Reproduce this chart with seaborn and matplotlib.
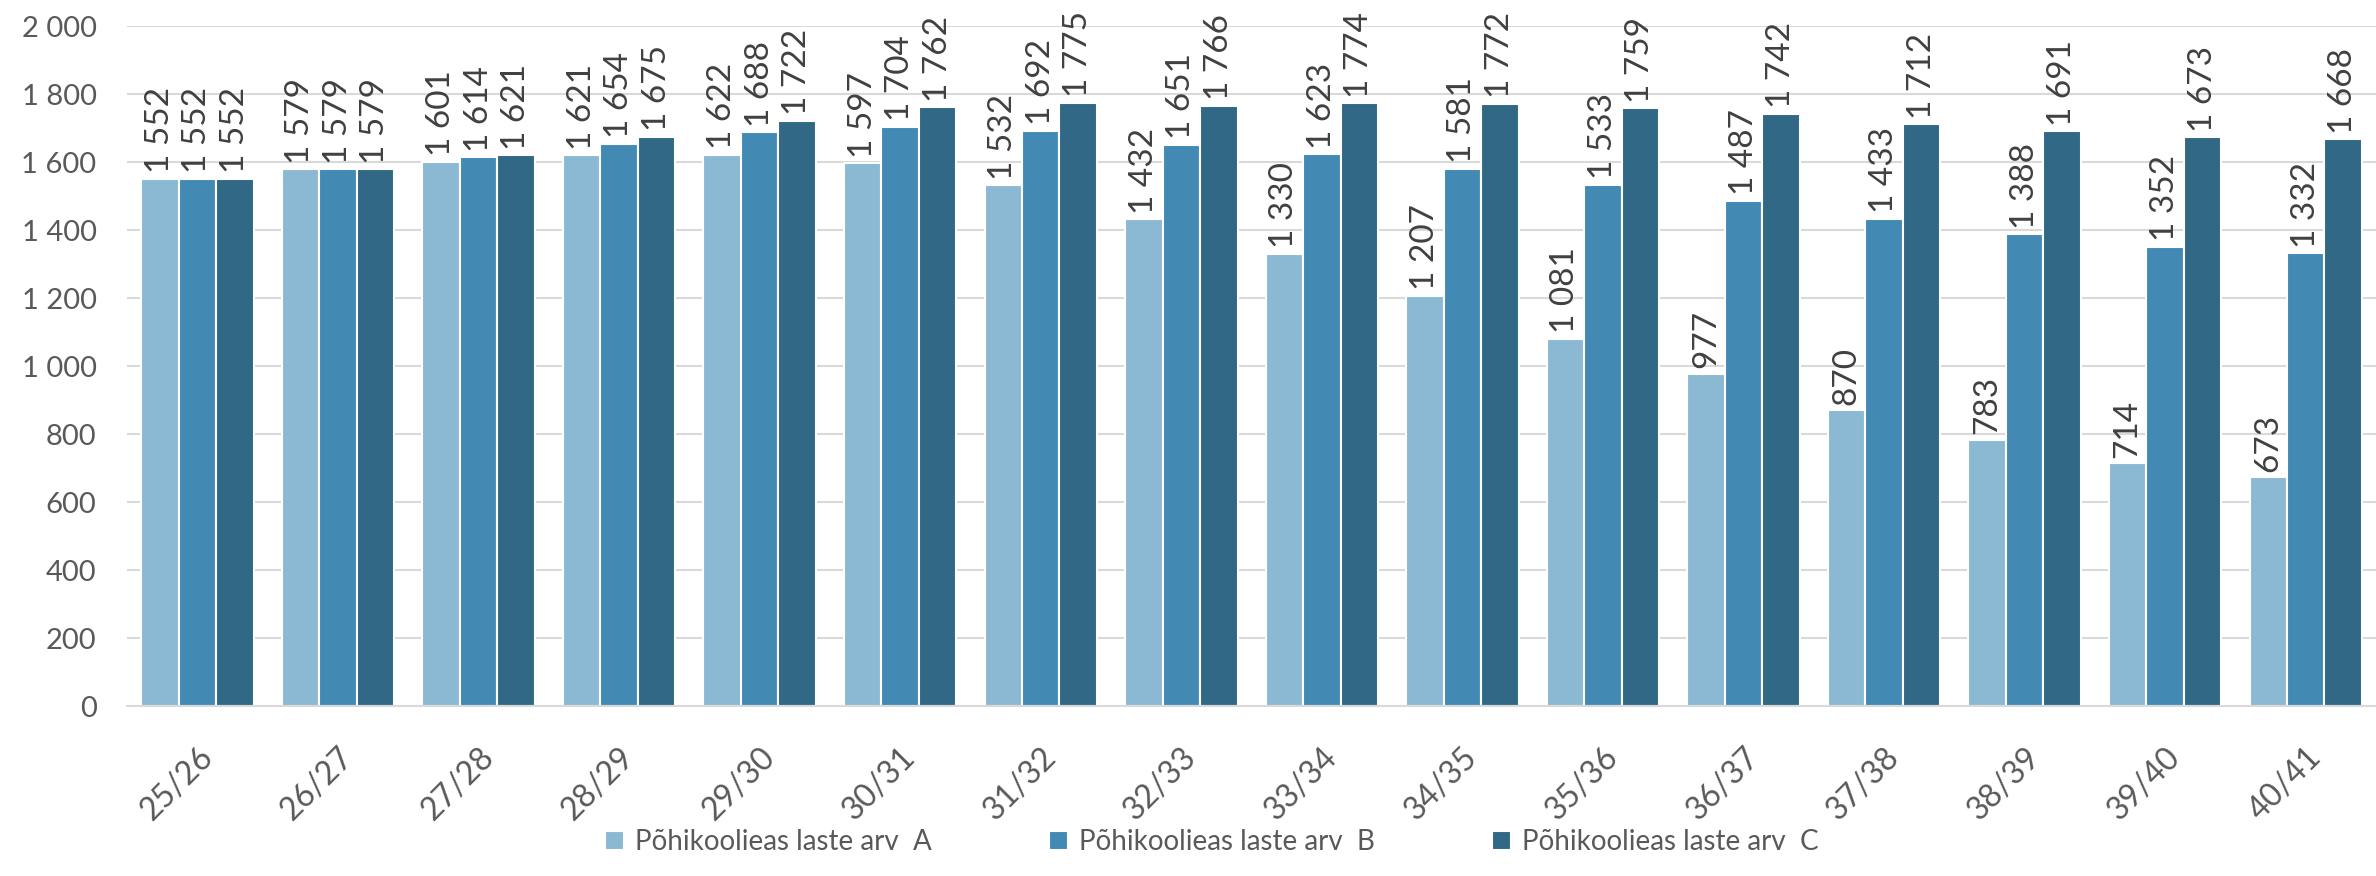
import matplotlib.pyplot as plt
import numpy as np
import pandas as pd
import seaborn as sns

# data
years = ['25/26', '26/27', '27/28', '28/29', '29/30', '30/31', '31/32', '32/33',
         '33/34', '34/35', '35/36', '36/37', '37/38', '38/39', '39/40', '40/41']
laste_a = [1552, 1579, 1601, 1621, 1622, 1597, 1532, 1432, 1330, 1207, 1081, 977, 870, 783, 714, 673]
laste_b = [1552, 1579, 1614, 1654, 1688, 1704, 1692, 1651, 1623, 1581, 1533, 1487, 1433, 1388, 1352, 1332]
laste_c = [1552, 1579, 1621, 1675, 1722, 1762, 1775, 1766, 1774, 1772, 1759, 1742, 1712, 1691, 1673, 1668]
series_names = ['Põhikoolieas laste arv  A', 'Põhikoolieas laste arv  B', 'Põhikoolieas laste arv  C']
colors = ['#8BB9D3', '#428AB4', '#316886']

df = pd.DataFrame({
    'aasta': years * 3,
    'value': laste_a + laste_b + laste_c,
    'series': [series_names[0]] * len(years) + [series_names[1]] * len(years) + [series_names[2]] * len(years),
})

sns.set_style('white')
plt.rcParams['font.family'] = ['Lato', 'DejaVu Sans']

fig, ax = plt.subplots(figsize=(23.76, 8.76), dpi=100)
fig.subplots_adjust(left=0.0535, right=1.0, bottom=0.194, top=0.970)

sns.barplot(data=df, x='aasta', y='value', hue='series', hue_order=series_names,
            palette=colors, saturation=1, width=0.8, edgecolor='white', linewidth=1.5, ax=ax)

def fmt(v):
    return f'{v:,.0f}'.replace(',', ' ')

for cont in ax.containers:
    ax.bar_label(cont, labels=[fmt(b.get_height()) for b in cont], rotation=90,
                 padding=4, fontsize=24, color='#404040', clip_on=False)

ax.set_ylim(0, 2000)
ax.set_yticks(np.arange(0, 2001, 200))
ax.set_yticklabels([fmt(v) for v in np.arange(0, 2001, 200)])
ax.yaxis.grid(True, color='#d9d9d9', linewidth=1.5)
ax.set_axisbelow(True)
ax.set_xlabel('')
ax.set_ylabel('')
for s in ['left', 'top', 'right']:
    ax.spines[s].set_visible(False)
ax.spines['bottom'].set_color('#d9d9d9')
ax.spines['bottom'].set_linewidth(1.5)
ax.tick_params(axis='y', length=0, pad=22, labelsize=21, labelcolor='#595959')
ax.tick_params(axis='x', length=0, pad=26, labelsize=23, labelcolor='#595959')
plt.setp(ax.get_xticklabels(), rotation=45, ha='right', rotation_mode='anchor')

ax.legend(loc='lower center', bbox_to_anchor=(0.51, -0.005), bbox_transform=fig.transFigure,
          ncol=3, frameon=False, fontsize=20, labelcolor='#595959',
          handlelength=0.7, handleheight=0.7, handletextpad=0.4, columnspacing=4.2)

fig.savefig('out.png', dpi=100)
